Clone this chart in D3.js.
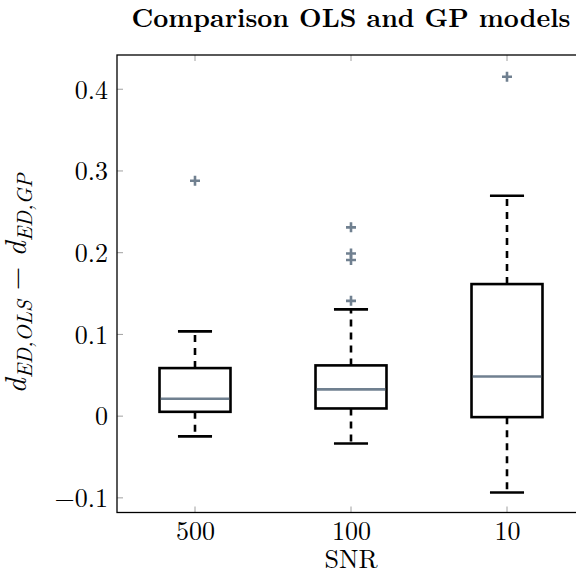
<!DOCTYPE html>
<html>
<head>
<meta charset="utf-8">
<script src="https://cdn.jsdelivr.net/npm/d3@7"></script>
<style>
  html, body { margin: 0; padding: 0; background: #fff; }
  svg { display: block; }
  svg text { font-family: "Latin Modern Roman", "Liberation Serif", serif; fill: #000; }
</style>
</head>
<body>
<svg id="chart" width="576" height="580"></svg>
<script>
// SNR groups and their box-plot summaries
const categories = ["500", "100", "10"];
const lowerWhisker = [-0.0248, -0.0334, -0.0934];
const q1 = [0.0053, 0.0094, -0.0012];
const median = [0.0212, 0.0327, 0.0486];
const q3 = [0.0588, 0.0621, 0.1616];
const upperWhisker = [0.1037, 0.1306, 0.2697];
const outliers = [
  [0.288],
  [0.1411, 0.191, 0.199, 0.231],
  [0.4153]
];
const yTicks = [-0.1, 0, 0.1, 0.2, 0.3, 0.4];

const FONT = "'Latin Modern Roman', 'Liberation Serif', serif";
const svg = d3.select("#chart");
const margin = { left: 117, top: 55, right: 585, bottom: 512.5 };
const accent = "#708090";
const tickGray = "#a0a0a0";

const x = d3.scalePoint()
  .domain(categories)
  .range([margin.left, margin.right])
  .padding(0.5);
const step = x.step();

const y = d3.scaleLinear()
  .domain([-0.1179, 0.4419])
  .range([margin.bottom, margin.top]);

// fit a text element to a target length by adjusting its font size
function fitLength(sel, base, target) {
  const len = sel.node().getComputedTextLength();
  if (len > 0) sel.attr("font-size", base * target / len);
}

// Title
const title = svg.append("text")
  .attr("x", (margin.left + margin.right) / 2)
  .attr("y", 27)
  .attr("text-anchor", "middle")
  .style("font-family", FONT)
  .attr("font-weight", "bold")
  .attr("font-size", 22)
  .text("Comparison OLS and GP models");
fitLength(title, 22, 439);

const plot = svg.append("g");

// Inner ticks: left/right for y, top/bottom for x
const tickLen = 6;
yTicks.forEach(v => {
  const yy = y(v);
  plot.append("line").attr("x1", margin.left).attr("x2", margin.left + tickLen)
    .attr("y1", yy).attr("y2", yy).attr("stroke", tickGray).attr("stroke-width", 1);
  plot.append("line").attr("x1", margin.right - tickLen).attr("x2", margin.right)
    .attr("y1", yy).attr("y2", yy).attr("stroke", tickGray).attr("stroke-width", 1);
});
categories.forEach(c => {
  const xx = x(c);
  plot.append("line").attr("x1", xx).attr("x2", xx)
    .attr("y1", margin.top).attr("y2", margin.top + tickLen).attr("stroke", tickGray).attr("stroke-width", 1);
  plot.append("line").attr("x1", xx).attr("x2", xx)
    .attr("y1", margin.bottom - tickLen).attr("y2", margin.bottom).attr("stroke", tickGray).attr("stroke-width", 1);
});

// Y tick labels
const fmt = d3.format(".1f");
const yAxis = d3.axisLeft(y).tickValues(yTicks).tickSize(0).tickPadding(9)
  .tickFormat(v => v === 0 ? "0" : (v < 0 ? "\u2212" + fmt(-v) : fmt(v)));
const gy = svg.append("g").attr("transform", `translate(${margin.left},0)`).call(yAxis);
gy.select(".domain").remove();
gy.attr("font-family", null).attr("font-size", null);
gy.selectAll("text").style("font-family", FONT).attr("font-size", 26).attr("fill", "#000")
  .attr("dy", "0.34em");

// X tick labels
const xAxis = d3.axisBottom(x).tickSize(0).tickPadding(12);
const gx = svg.append("g").attr("transform", `translate(0,${margin.bottom})`).call(xAxis);
gx.select(".domain").remove();
gx.attr("font-family", null).attr("font-size", null);
gx.selectAll("text").style("font-family", FONT).attr("font-size", 26).attr("fill", "#000")
  .attr("y", 0).attr("dy", 27.5);

// Boxes
const boxW = step * 0.455;
const capW = boxW * 0.48;
const lw = 2.6;
const groups = plot.selectAll("g.box").data(categories).join("g").attr("class", "box");

groups.each(function(c, i) {
  const g = d3.select(this);
  const cx = x(c);
  // whiskers
  g.append("line").attr("x1", cx).attr("x2", cx)
    .attr("y1", y(q3[i])).attr("y2", y(upperWhisker[i]))
    .attr("stroke", "#000").attr("stroke-width", lw).attr("stroke-dasharray", "7,6");
  g.append("line").attr("x1", cx).attr("x2", cx)
    .attr("y1", y(q1[i])).attr("y2", y(lowerWhisker[i]))
    .attr("stroke", "#000").attr("stroke-width", lw).attr("stroke-dasharray", "7,6");
  // caps
  [upperWhisker[i], lowerWhisker[i]].forEach(v => {
    g.append("line").attr("x1", cx - capW / 2).attr("x2", cx + capW / 2)
      .attr("y1", y(v)).attr("y2", y(v)).attr("stroke", "#000").attr("stroke-width", lw);
  });
  // box
  g.append("rect").attr("x", cx - boxW / 2).attr("width", boxW)
    .attr("y", y(q3[i])).attr("height", y(q1[i]) - y(q3[i]))
    .attr("fill", "#fff").attr("stroke", "#000").attr("stroke-width", lw);
  // median
  g.append("line").attr("x1", cx - boxW / 2 + lw / 2).attr("x2", cx + boxW / 2 - lw / 2)
    .attr("y1", y(median[i])).attr("y2", y(median[i]))
    .attr("stroke", accent).attr("stroke-width", lw);
  // outliers
  outliers[i].forEach(v => {
    const yy = y(v);
    g.append("path")
      .attr("d", `M${cx - 5},${yy}H${cx + 5}M${cx},${yy - 5}V${yy + 5}`)
      .attr("stroke", accent).attr("stroke-width", lw).attr("fill", "none");
  });
});

// Frame
svg.append("rect")
  .attr("x", margin.left).attr("y", margin.top)
  .attr("width", margin.right - margin.left).attr("height", margin.bottom - margin.top)
  .attr("fill", "none").attr("stroke", "#000").attr("stroke-width", 1.3);

// Axis titles
svg.append("text")
  .attr("x", (margin.left + margin.right) / 2)
  .attr("y", 568)
  .attr("text-anchor", "middle")
  .style("font-family", FONT)
  .attr("font-size", 26)
  .text("SNR");

const ylab = svg.append("text")
  .attr("transform", `translate(26,${(margin.top + margin.bottom) / 2}) rotate(-90)`)
  .attr("text-anchor", "middle")
  .style("font-family", FONT)
  .attr("font-size", 27)
  .attr("font-style", "italic");
ylab.append("tspan").text("d");
ylab.append("tspan").attr("font-size", "0.7em").attr("dy", 6).text("ED,OLS");
ylab.append("tspan").attr("dy", -6).attr("font-style", "normal").text(" \u2212 ");
ylab.append("tspan").text("d");
ylab.append("tspan").attr("font-size", "0.7em").attr("dy", 6).text("ED,GP");
fitLength(ylab, 27, 220);
</script>
</body>
</html>
